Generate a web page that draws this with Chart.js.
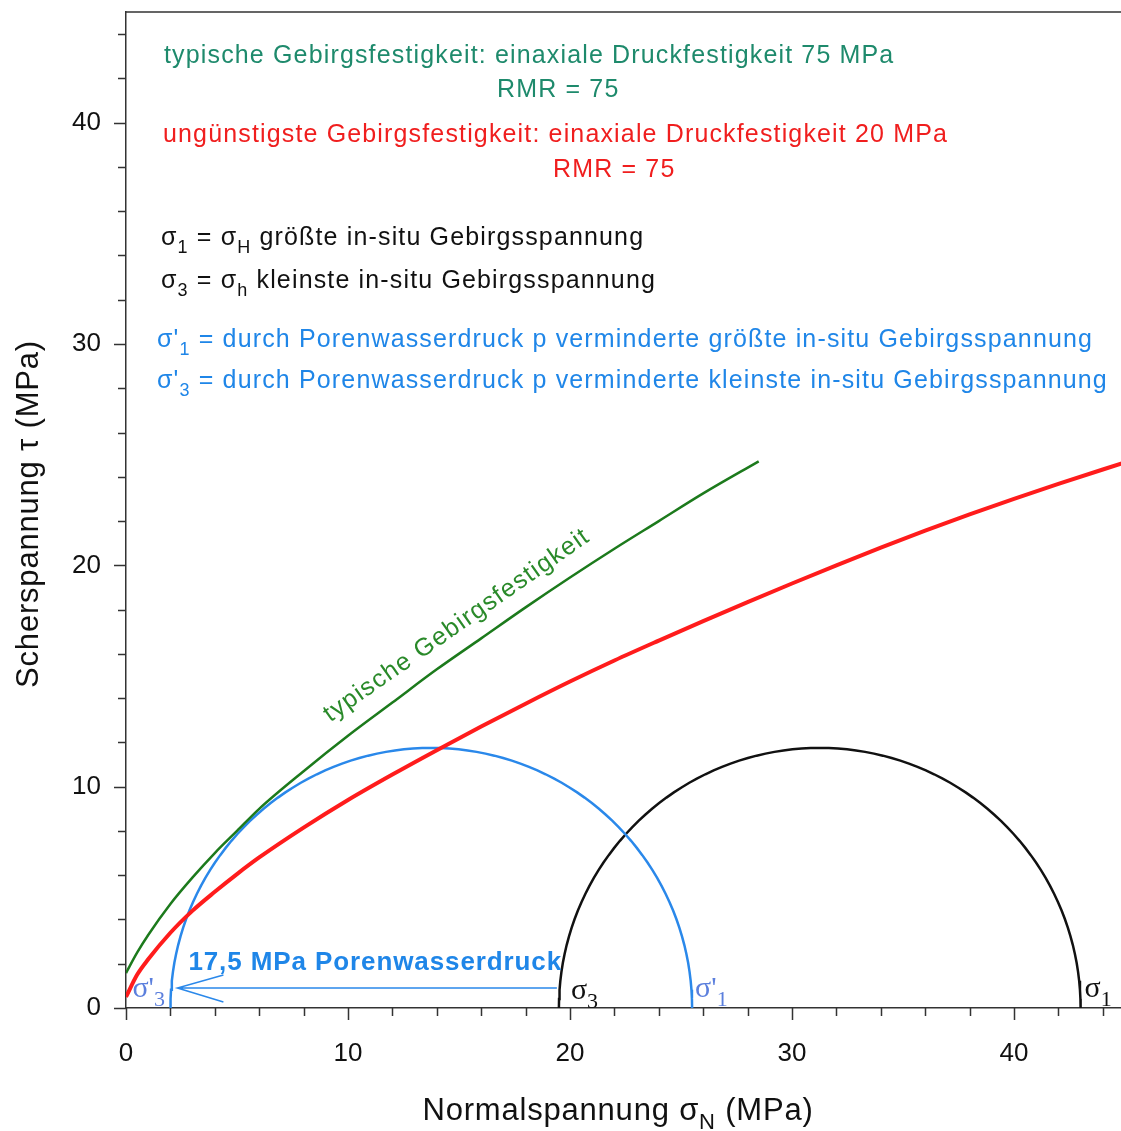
<!DOCTYPE html>
<html><head><meta charset="utf-8">
<script src="https://cdn.jsdelivr.net/npm/chart.js@4.4.1/dist/chart.umd.min.js"></script>
<style>
html,body{margin:0;padding:0;overflow:hidden;background:#fff;width:1121px;height:1131px}
#wrap{position:absolute;left:0;top:0;width:1130px;height:1131px}
</style>
</head><body><div id="wrap"><canvas id="c" width="1130" height="1131"></canvas></div>
<script>
// ---- data ----
const greenX = [0, 0.5, 1, 2, 3, 4, 5, 6, 8, 10, 12, 14, 16, 18, 20, 22, 24, 26, 28.5];
const greenY = [1.58, 2.5, 3.3, 4.7, 5.9, 7.0, 8.0, 9.0, 10.7, 12.3, 13.8, 15.3, 16.7, 18.1, 19.45, 20.75, 22.0, 23.25, 24.7];
const redX = [0, 0.5, 1, 2, 3, 4, 5, 6, 8, 10, 12, 14, 16, 18, 20, 22, 24, 26, 28, 30, 32, 34, 36, 38, 40, 42, 45];
const redY = [0.5, 1.5, 2.2, 3.4, 4.4, 5.25, 6.05, 6.8, 8.15, 9.4, 10.55, 11.65, 12.72, 13.75, 14.75, 15.7, 16.6, 17.48, 18.34, 19.18, 20.0, 20.8, 21.57, 22.3, 23.0, 23.68, 24.65];
const sigma1 = 43.0;        // MPa, größte in-situ Gebirgsspannung
const sigma3 = 19.5;        // MPa, kleinste in-situ Gebirgsspannung
const porePressure = 17.5;  // MPa
const xMajorTicks = [0, 10, 20, 30, 40];
const yMajorTicks = [0, 10, 20, 30, 40];

const sigma1p = sigma1 - porePressure;
const sigma3p = sigma3 - porePressure;

function mohr(s3, s1) {
  const c = (s1 + s3) / 2, r = (s1 - s3) / 2, pts = [];
  for (let a = 180; a >= 0; a -= 2) {
    const t = a * Math.PI / 180;
    pts.push({x: c + r * Math.cos(t), y: r * Math.sin(t)});
  }
  return pts;
}
const zip = (xs, ys) => xs.map((x, i) => ({x, y: ys[i]}));

const SANS = '"Liberation Sans", Arial, sans-serif';
const SERIF = '"Liberation Serif", "Times New Roman", serif';
const C = {
  teal: '#1e8a6c', green: '#1c7a1c', greenTxt: '#2a8a2a', red: '#ff1c1c', redTxt: '#f01e1e',
  blue: '#2a88ea', blueTxt: '#1f86e8', blueSig: '#5b7fdd', black: '#111', axis: '#333'
};

function ls(ctx, v) { if ('letterSpacing' in ctx) ctx.letterSpacing = v + 'px'; }

function rich(ctx, x, y, parts, size, color, font, spacing) {
  ctx.save();
  ctx.fillStyle = color;
  ctx.textAlign = 'left';
  ctx.textBaseline = 'alphabetic';
  ls(ctx, spacing || 0);
  let cx = x;
  for (const p of parts) {
    const sz = p.sub ? Math.round(size * 0.72) : size;
    ctx.font = (p.bold ? 'bold ' : '') + sz + 'px ' + (p.font || font);
    ctx.fillText(p.t, cx, y + (p.sub ? size * 0.3 : 0));
    cx += ctx.measureText(p.t).width;
  }
  ctx.restore();
  return cx;
}
function richWidth(ctx, parts, size, font, spacing) {
  ctx.save(); ls(ctx, spacing || 0);
  let w = 0;
  for (const p of parts) {
    ctx.font = (p.bold ? 'bold ' : '') + (p.sub ? Math.round(size * 0.72) : size) + 'px ' + font;
    w += ctx.measureText(p.t).width;
  }
  ctx.restore();
  return w;
}

const deco = {
  id: 'deco',
  afterDraw(chart) {
    const ctx = chart.ctx, ca = chart.chartArea;
    const xs = chart.scales.x, ys = chart.scales.y;
    ctx.save();
    // ticks
    ctx.strokeStyle = C.axis; ctx.lineWidth = 1.5;
    ctx.beginPath();
    for (let v = 0; v <= 44; v += 2) {
      const px = Math.round(xs.getPixelForValue(v)) + 0.5;
      const len = xMajorTicks.includes(v) ? 12 : 8;
      ctx.moveTo(px, ca.bottom); ctx.lineTo(px, ca.bottom + len);
      const py = Math.round(ys.getPixelForValue(v)) + 0.5;
      const len2 = yMajorTicks.includes(v) ? 12 : 8;
      ctx.moveTo(ca.left, py); ctx.lineTo(ca.left - len2, py);
    }
    // top frame
    ctx.moveTo(ca.left, ca.top); ctx.lineTo(ca.right, ca.top);
    ctx.stroke();

    // axis titles
    ctx.fillStyle = C.black;
    ctx.font = '31px ' + SANS;
    ls(ctx, 0.8);
    ctx.textAlign = 'center'; ctx.textBaseline = 'alphabetic';
    ctx.save();
    ctx.translate(38, (ca.top + ca.bottom) / 2 + 4);
    ctx.rotate(-Math.PI / 2);
    ctx.fillText('Scherspannung τ (MPa)', 0, 0);
    ctx.restore();
    ls(ctx, 0);
    const xt = [{t: 'Normalspannung σ'}, {t: 'N', sub: true}, {t: ' (MPa)'}];
    const w = richWidth(ctx, xt, 31, SANS, 0.8);
    rich(ctx, 618 - w / 2, 1120, xt, 31, C.black, SANS, 0.8);

    // header texts
    const L = ca.left, S = 25, SP = 1.15;
    rich(ctx, L + 38, 63, [{t: 'typische Gebirgsfestigkeit: einaxiale Druckfestigkeit 75 MPa'}], S, C.teal, SANS, SP);
    rich(ctx, L + 371, 97, [{t: 'RMR = 75'}], S, C.teal, SANS, SP);
    rich(ctx, L + 37, 142, [{t: 'ungünstigste Gebirgsfestigkeit: einaxiale Druckfestigkeit 20 MPa'}], S, C.redTxt, SANS, SP);
    rich(ctx, L + 427, 177, [{t: 'RMR = 75'}], S, C.redTxt, SANS, SP);
    rich(ctx, L + 35, 245, [{t: 'σ'}, {t: '1', sub: true}, {t: ' = σ'}, {t: 'H', sub: true}, {t: ' größte in-situ Gebirgsspannung'}], S, C.black, SANS, SP);
    rich(ctx, L + 35, 288, [{t: 'σ'}, {t: '3', sub: true}, {t: ' = σ'}, {t: 'h', sub: true}, {t: ' kleinste in-situ Gebirgsspannung'}], S, C.black, SANS, SP);
    rich(ctx, L + 31, 347, [{t: 'σ\''}, {t: '1', sub: true}, {t: ' = durch Porenwasserdruck p verminderte größte in-situ Gebirgsspannung'}], S, C.blueTxt, SANS, SP);
    rich(ctx, L + 31, 388, [{t: 'σ\''}, {t: '3', sub: true}, {t: ' = durch Porenwasserdruck p verminderte kleinste in-situ Gebirgsspannung'}], S, C.blueTxt, SANS, SP);

    // rotated curve label
    ctx.save();
    ctx.translate(xs.getPixelForValue(9.2), ys.getPixelForValue(12.9));
    ctx.rotate(-35 * Math.PI / 180);
    ctx.fillStyle = C.greenTxt; ctx.font = '25px ' + SANS; ctx.textAlign = 'left';
    ls(ctx, 1.3);
    ctx.fillText('typische Gebirgsfestigkeit', 0, 0);
    ctx.restore();

    // pore pressure arrow
    const ay = ys.getPixelForValue(0.9);
    const tip = xs.getPixelForValue(sigma3p) + 7;
    ctx.strokeStyle = C.blue; ctx.lineWidth = 1.5;
    ctx.beginPath();
    ctx.moveTo(xs.getPixelForValue(sigma3) - 2, ay); ctx.lineTo(tip, ay);
    ctx.moveTo(tip + 46, ay - 13); ctx.lineTo(tip, ay); ctx.lineTo(tip + 46, ay + 14);
    ctx.stroke();
    rich(ctx, xs.getPixelForValue(sigma3p) + 18, ys.getPixelForValue(1.7), [{t: '17,5 MPa Porenwasserdruck', bold: true}], 26, C.blueTxt, SANS, 0.9);

    // sigma labels on the axis
    const by = ca.bottom - 11;
    rich(ctx, xs.getPixelForValue(sigma3p) - 38, by, [{t: 'σ\''}, {t: '3', sub: true}], 30, C.blueSig, SERIF);
    rich(ctx, xs.getPixelForValue(sigma3) + 12, by + 2, [{t: 'σ'}, {t: '3', sub: true}], 30, C.black, SERIF);
    rich(ctx, xs.getPixelForValue(sigma1p) + 3, by, [{t: 'σ\''}, {t: '1', sub: true}], 30, C.blueSig, SERIF);
    rich(ctx, xs.getPixelForValue(sigma1) + 4, by, [{t: 'σ'}, {t: '1', sub: true}], 30, C.black, SERIF);
    ctx.restore();
  }
};

new Chart(document.getElementById('c'), {
  type: 'scatter',
  data: {
    datasets: [
      {data: zip(greenX, greenY), borderColor: C.green, borderWidth: 2.5, showLine: true, pointRadius: 0, cubicInterpolationMode: 'monotone'},
      {data: zip(redX, redY), borderColor: C.red, borderWidth: 4, showLine: true, pointRadius: 0, cubicInterpolationMode: 'monotone'},
      {data: mohr(sigma3p, sigma1p), borderColor: C.blue, borderWidth: 2.5, showLine: true, pointRadius: 0},
      {data: mohr(sigma3, sigma1), borderColor: C.black, borderWidth: 2.5, showLine: true, pointRadius: 0}
    ]
  },
  options: {
    responsive: false, animation: false,
    layout: {padding: {top: 12, right: 5, left: 0, bottom: 0}},
    plugins: {legend: {display: false}, tooltip: {enabled: false}},
    scales: {
      x: {
        type: 'linear', min: 0, max: 45,
        grid: {display: false, drawTicks: false},
        border: {display: true, color: C.axis, width: 1.5},
        ticks: {stepSize: 2, autoSkip: false, maxRotation: 0, padding: 30, color: C.black,
          font: {family: SANS, size: 26},
          callback: v => xMajorTicks.includes(v) ? String(v) : ''},
        afterFit: s => { s.height = 123; s.paddingLeft = 0; s.paddingRight = 0; }
      },
      y: {
        type: 'linear', min: 0, max: 45,
        grid: {display: false, drawTicks: false},
        border: {display: true, color: C.axis, width: 1.5},
        ticks: {stepSize: 2, autoSkip: false, padding: 25, color: C.black,
          font: {family: SANS, size: 26},
          callback: v => yMajorTicks.includes(v) ? String(v) : ''},
        afterFit: s => { s.width = 126; s.paddingTop = 0; s.paddingBottom = 0; }
      }
    }
  },
  plugins: [deco]
});
</script>
</body></html>
